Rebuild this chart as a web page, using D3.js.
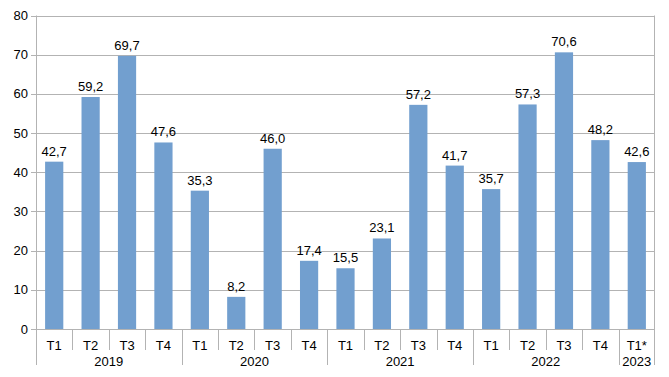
<!DOCTYPE html>
<html>
<head>
<meta charset="utf-8">
<script src="https://cdn.jsdelivr.net/npm/d3@7"></script>
<style>
  body { margin: 0; background: #fff; }
  text { font-family: "Liberation Sans", Arial, sans-serif; fill: #000; }
</style>
</head>
<body>
<div id="chart"></div>
<script>
// data
const quarters = ["T1","T2","T3","T4","T1","T2","T3","T4","T1","T2","T3","T4","T1","T2","T3","T4","T1*"];
const years = ["2019","2019","2019","2019","2020","2020","2020","2020","2021","2021","2021","2021","2022","2022","2022","2022","2023"];
const values = [42.7,59.2,69.7,47.6,35.3,8.2,46.0,17.4,15.5,23.1,57.2,41.7,35.7,57.3,70.6,48.2,42.6];
const yTicks = [0,10,20,30,40,50,60,70,80];

const width = 669, height = 377;
const margin = {left: 36, right: 14, top: 15.5, bottom: 48};

const svg = d3.select("#chart").append("svg")
    .attr("width", width)
    .attr("height", height);

const keys = d3.range(values.length);
const x = d3.scaleBand()
    .domain(keys)
    .range([margin.left, width - margin.right])
    .paddingInner(0.5)
    .paddingOuter(0.25);

const y = d3.scaleLinear()
    .domain([0, 80])
    .range([height - margin.bottom, margin.top]);

const x0 = margin.left, x1 = width - margin.right;
const y0 = y(0);

// gridlines
svg.append("g")
  .selectAll("line")
  .data(yTicks)
  .join("line")
    .attr("x1", x0 - 5)
    .attr("x2", x1)
    .attr("y1", d => Math.round(y(d)) + 0.5)
    .attr("y2", d => Math.round(y(d)) + 0.5)
    .attr("stroke", "#b3b3b3")
    .attr("stroke-width", 1);

// y labels
svg.append("g")
  .selectAll("text")
  .data(yTicks)
  .join("text")
    .attr("x", x0 - 8)
    .attr("y", d => y(d))
    .attr("dy", "0.35em")
    .attr("text-anchor", "end")
    .attr("font-size", 13)
    .text(d => d);

// left / right border
svg.append("line")
    .attr("x1", x0 + 0.5).attr("x2", x0 + 0.5)
    .attr("y1", margin.top).attr("y2", 365)
    .attr("stroke", "#b3b3b3");
svg.append("line")
    .attr("x1", x1 - 0.5).attr("x2", x1 - 0.5)
    .attr("y1", margin.top).attr("y2", 365)
    .attr("stroke", "#b3b3b3");

// bars
svg.append("g")
  .selectAll("rect")
  .data(values)
  .join("rect")
    .attr("x", (d, i) => x(i))
    .attr("y", d => y(d))
    .attr("width", x.bandwidth())
    .attr("height", d => y0 - y(d))
    .attr("fill", "#729fcf");

// value labels
const fmt = d => d.toFixed(1).replace(".", ",");
svg.append("g")
  .selectAll("text")
  .data(values)
  .join("text")
    .attr("x", (d, i) => x(i) + x.bandwidth() / 2)
    .attr("y", d => y(d) - 6)
    .attr("text-anchor", "middle")
    .attr("font-size", 13)
    .text(fmt);

// category separators
const step = x.step();
const catX = i => x0 + (x1 - x0) * i / values.length;
svg.append("g")
  .selectAll("line")
  .data(d3.range(1, values.length))
  .join("line")
    .attr("x1", i => Math.round(catX(i)) + 0.5)
    .attr("x2", i => Math.round(catX(i)) + 0.5)
    .attr("y1", y0)
    .attr("y2", i => years[i] !== years[i - 1] ? 365 : 350)
    .attr("stroke", "#b3b3b3");

// quarter labels
svg.append("g")
  .selectAll("text")
  .data(quarters)
  .join("text")
    .attr("x", (d, i) => x(i) + x.bandwidth() / 2)
    .attr("y", 345)
    .attr("dy", "0.35em")
    .attr("text-anchor", "middle")
    .attr("font-size", 13)
    .text(d => d);

// year labels
const yearGroups = d3.groups(keys, i => years[i]);
svg.append("g")
  .selectAll("text")
  .data(yearGroups)
  .join("text")
    .attr("x", g => (catX(g[1][0]) + catX(g[1][g[1].length - 1] + 1)) / 2)
    .attr("y", 361)
    .attr("dy", "0.35em")
    .attr("text-anchor", "middle")
    .attr("font-size", 13)
    .text(g => g[0]);
</script>
</body>
</html>
